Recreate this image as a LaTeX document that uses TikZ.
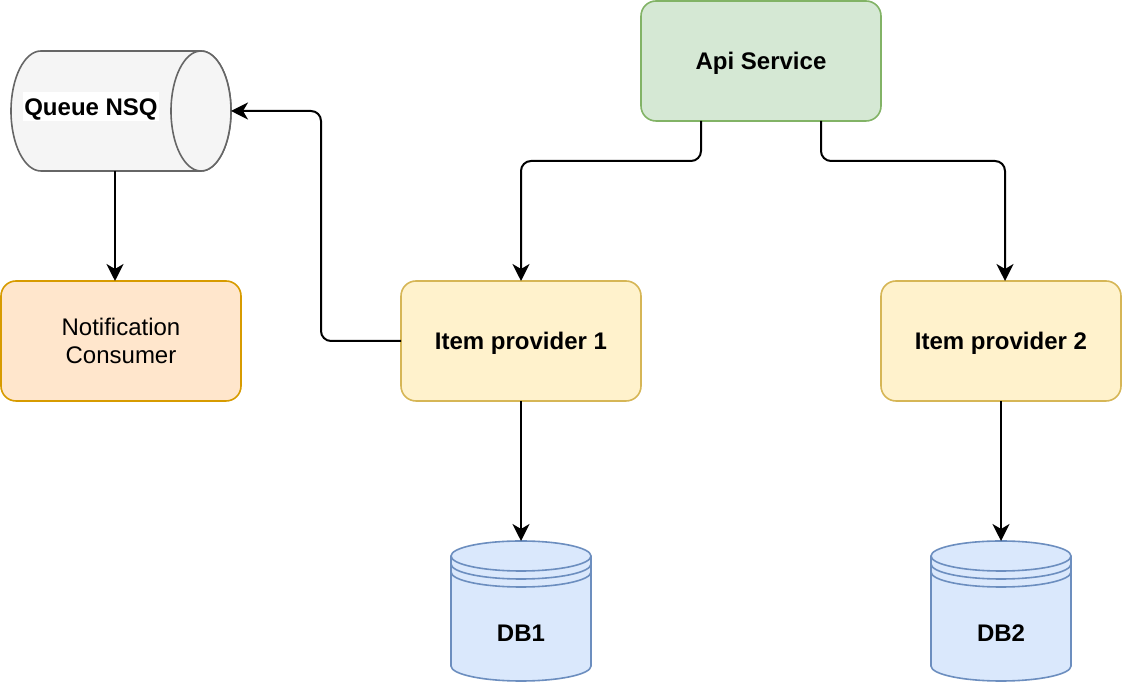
\documentclass[tikz,border=0pt]{standalone}
\usepackage{fontspec}
\setmainfont{Liberation Sans}
\usetikzlibrary{arrows.meta,positioning}

\definecolor{apifill}{HTML}{D5E8D4}
\definecolor{apidraw}{HTML}{82B366}
\definecolor{itemfill}{HTML}{FFF2CC}
\definecolor{itemdraw}{HTML}{D6B656}
\definecolor{notiffill}{HTML}{FFE6CC}
\definecolor{notifdraw}{HTML}{D79B00}
\definecolor{queuefill}{HTML}{F5F5F5}
\definecolor{queuedraw}{HTML}{666666}
\definecolor{dbfill}{HTML}{DAE8FC}
\definecolor{dbdraw}{HTML}{6C8EBF}

\begin{document}
\begin{tikzpicture}
	[x=1pt,y=1pt,->,>={Stealth[length=17pt,width=17pt,inset=5pt]},line width=2pt,
		font=\fontsize{24pt}{28pt}\selectfont,
		base node/.style={rectangle,rounded corners=15pt,draw,line width=1.6pt,outer sep=0pt,minimum width=240pt,minimum height=120pt,align=center},
		item node/.style={base node,fill=itemfill,draw=itemdraw,bold text},
		hidden node/.style={rectangle,inner sep=0pt,outer sep=0pt},
		queue shape/.style={-,fill=queuefill,draw=queuedraw,line width=1.6pt},
		db shape/.style={-,fill=dbfill,draw=dbdraw,line width=1.6pt},
		bold text/.style={font=\fontsize{24pt}{28pt}\selectfont\bfseries,text height=22pt,text depth=4pt}]

	\useasboundingbox (0,0) rectangle (1122,682);

	\node[base node, fill=notiffill, draw=notifdraw] (notif) at (121,341) {Notification\\Consumer};
	\node[item node] (ip1) [right=160pt of notif] {Item provider 1};
	\node[item node] (ip2) [right=240pt of ip1] {Item provider 2};
	\node[base node, fill=apifill, draw=apidraw, bold text] (api) [above right=160pt and 0pt of ip1] {Api Service};
	\node[hidden node, minimum width=220pt, minimum height=120pt] (queue) [above=110pt of notif] {};
	\node[hidden node, minimum size=140pt] (db1) [below=140pt of ip1] {};
	\node[hidden node, minimum size=140pt] (db2) [below=140pt of ip2] {};

	% queue cylinder
	\draw[queue shape] ([xshift=30pt]queue.north west) -- ([xshift=-30pt]queue.north east)
		arc (90:-90:30pt and 60pt) -- ([xshift=30pt]queue.south west)
		arc (270:90:30pt and 60pt) -- cycle;
	\draw[queue shape] ([xshift=-30pt]queue.east) ellipse (30pt and 60pt);
	\node[bold text, fill=white, inner sep=1.5pt] (queue text) at ([shift={(-30pt,4pt)}]queue.center) {Queue NSQ};

	% databases
	\foreach \db in {db1,db2} {
		\draw[db shape] ([yshift=-15pt]\db.north west) -- ([yshift=15pt]\db.south west)
			arc (180:360:70pt and 15pt) -- ([yshift=-15pt]\db.north east)
			arc (0:180:70pt and 15pt) -- cycle;
		\foreach \off in {0,8,16}
			\draw[db shape, fill=none] ([yshift={-15pt-\off pt}]\db.north west) arc (180:360:70pt and 15pt);
	}
	\node[bold text] (db1 text) at ([yshift=-22pt]db1.center) {DB1};
	\node[bold text] (db2 text) at ([yshift=-22pt]db2.center) {DB2};

	\path[rounded corners=10pt]
	([xshift=-60pt]api.south) edge [to path={-- ++(0,-40) -| (\tikztotarget)}] (ip1.north)
	([xshift=60pt]api.south) edge [to path={-- ++(0,-40) -| (\tikztotarget)}] ([xshift=4pt]ip2.north)
	(ip1.west) edge [to path={-- ++(-80,0) |- (\tikztotarget)}] (queue.east)
	([xshift=-6pt]queue.south) edge ([xshift=-6pt]notif.north)
	(ip1.south) edge (db1.north)
	(ip2.south) edge (db2.north)
	;

\end{tikzpicture}
\end{document}
